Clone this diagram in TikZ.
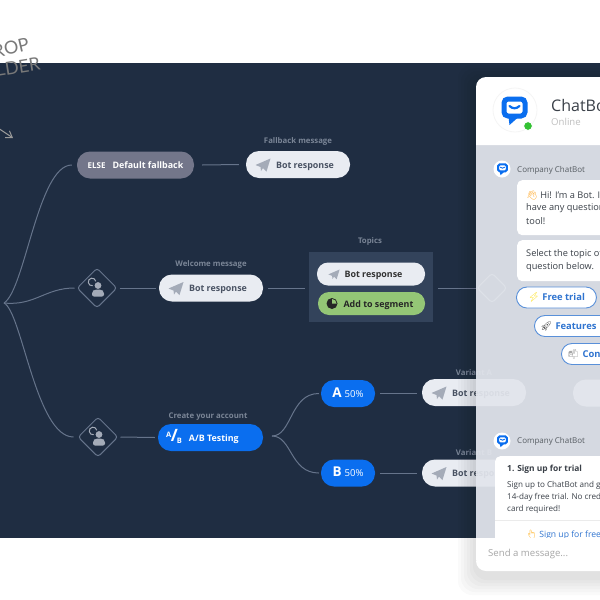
\documentclass[tikz,border=0pt]{standalone}
\usepackage{fontspec}
\setmainfont{Open Sans}
\newfontfamily\emojifont{Noto Emoji}
\newfontfamily\handfont{Lato}
\usetikzlibrary{shapes.geometric,arrows.meta}
\definecolor{navy}{HTML}{1F2D42}
\definecolor{wire}{HTML}{66748B}
\definecolor{softlabel}{HTML}{7A8596}
\definecolor{pillgrey}{HTML}{E9ECF2}
\definecolor{pilltext}{HTML}{4A5364}
\definecolor{elsegrey}{HTML}{73768A}
\definecolor{topicbg}{HTML}{33435B}
\definecolor{leaf}{HTML}{94C676}
\definecolor{brandblue}{HTML}{0A6EEF}
\definecolor{linkblue}{HTML}{2F74D0}
\definecolor{panelbody}{HTML}{E4E7EE}
\definecolor{planegrey}{HTML}{A4ABB8}
\definecolor{inktext}{HTML}{3A4048}
\tikzset{
  pill/.style={rounded corners=13pt,fill=pillgrey,text=pilltext,font=\fontsize{8.9}{11}\selectfont\bfseries,inner sep=0pt,minimum height=27pt,minimum width=104pt,text height=8.5pt,text depth=1.5pt},
  bluepill/.style={pill,fill=brandblue,text=white},
  smalllabel/.style={text=softlabel,font=\fontsize{7.8}{10}\selectfont\bfseries,inner sep=0pt,yshift=-1pt},
  wireline/.style={draw=wire,line width=1pt},
  gate/.style={diamond,draw=wire,line width=1pt,rounded corners=3pt,minimum size=40pt,inner sep=0pt},
  choice/.style={rounded corners=10.5pt,draw=linkblue!80,line width=0.9pt,fill=white,text=linkblue,font=\fontsize{9.4}{12}\selectfont\bfseries,inner sep=0pt,minimum height=21pt,anchor=west},
  bubble/.style={rounded corners=5pt,fill=white,inner sep=0pt,anchor=north west},
  chat/.style={text=inktext,font=\fontsize{9.2}{12}\selectfont,inner sep=0pt,anchor=west},
  chatname/.style={text=inktext!85,font=\fontsize{8}{10}\selectfont,inner sep=0pt,anchor=west},
  plane/.pic={\fill[planegrey] (-7.5,0.5) -- (7.5,-6) -- (3.5,7) -- (0,3.5) -- (-2,6.5) -- (-2.5,2.5) -- cycle;},
  person/.pic={
    \fill[planegrey] (2,-1.5) circle (3.4);
    \fill[planegrey,rounded corners=2pt] (-4,9.5) -- (-4,4.5) -- (-1.5,2.5) -- (5.5,2.5) -- (8,4.5) -- (8,9.5) -- cycle;
    \draw[planegrey,line width=1pt] (-3.3,-1.3) arc (80:350:3.8);
  },
  botmark/.pic={
    \draw[brandblue,line width=5pt*#1,rounded corners=4pt*#1,fill=white] (-10.5*#1,-10*#1) rectangle (10.5*#1,7*#1);
    \fill[brandblue] (-6*#1,8*#1) -- (-5*#1,16*#1) -- (4*#1,8*#1) -- cycle;
    \draw[brandblue,line width=2.2pt*#1,line cap=round] (-5*#1,-3*#1) .. controls (-2*#1,0*#1) and (2*#1,0*#1) .. (5*#1,-3*#1);
  },
}
\begin{document}
\begin{tikzpicture}[x=1pt,y=-1pt]
\useasboundingbox (0,0) rectangle (600,600);
\clip (0,0) rectangle (600,600);
\fill[white] (0,0) rectangle (600,600);
% dark canvas
\fill[navy] (0,63) rectangle (600,538);
% handwriting
\node[text=gray!95!black,font=\handfont\fontsize{18}{18}\selectfont,rotate=13,inner sep=0pt] (hand1) at (11,48) {ROP};
\node[text=gray!95!black,font=\handfont\fontsize{18}{18}\selectfont,rotate=9,inner sep=0pt] (hand2) at (18,67) {LDER};
\coordinate (arrowstart) at (-2,128);
\coordinate (arrowend) at (13,138);
\draw[gray!80,line width=1pt,-{Straight Barb[length=6pt,width=8pt]}] (arrowstart) -- (arrowend);

% nodes of the flow
\coordinate (root) at (4,303);
\node[pill,fill=elsegrey,text=white,minimum width=117pt] (else) at (135.5,165)
  {{\fontsize{8}{10}\selectfont ELSE}\hspace{7pt}Default fallback};
\node[pill] (fallbot) at (298,164.5) {\hspace{14pt}Bot response};
\pic at (263,164.5) {plane};
\node[smalllabel] (falllabel) at (298,140) {Fallback message};

\node[gate] (gate1) at (97,288) {};
\pic at (96,287) {person};
\node[pill] (welbot) at (211,288) {\hspace{14pt}Bot response};
\pic at (176,288) {plane};
\node[smalllabel] (wellabel) at (211,263) {Welcome message};

\node[smalllabel] (topiclabel) at (370,240) {Topics};
\node[fill=topicbg,minimum width=124pt,minimum height=70pt,inner sep=0pt] (topics) at (371,287) {};
\node[pill,text=black!80,minimum width=108pt,minimum height=23pt,rounded corners=11pt] (topicbot) at (371,274) {\hspace{5pt}Bot response};
\pic[scale=0.75] at (334,274) {plane};
\node[pill,fill=leaf,text=black!85,minimum width=107pt,minimum height=23pt,rounded corners=11pt] (segment) at (371.5,303.5) {\hspace{14pt}Add to segment};
\fill[black!85] (332,303.5) circle (5.5);
\fill[leaf] (332,303.5) -- (332,299) arc (-90:0:4.5) -- cycle;

\node[gate] (gate2) at (98,437) {};
\pic at (97,436) {person};
\node[bluepill,minimum width=105pt] (abtest) at (210.5,437.5)
  {\raisebox{4pt}{\fontsize{7.5}{7}\selectfont A}\kern-0.5pt{\fontsize{17}{15}\selectfont /}\kern-1pt\raisebox{-2pt}{\fontsize{7.5}{7}\selectfont B}\hspace{7pt}A/B Testing\kern16pt};
\node[smalllabel] (ablabel) at (208,416) {Create your account};
\coordinate (fork) at (272,436);
\node[bluepill,minimum width=54pt] (varA) at (348,393.5) {{\fontsize{13.5}{13}\selectfont A}\hspace{3pt}{\fontsize{9.6}{10}\selectfont\mdseries 50\%}};
\node[bluepill,minimum width=54pt] (varB) at (348,473) {{\fontsize{13.5}{13}\selectfont B}\hspace{3pt}{\fontsize{9.6}{10}\selectfont\mdseries 50\%}};
\node[pill] (botA) at (474,392.5) {\hspace{14pt}Bot response};
\pic at (439,392.5) {plane};
\node[pill] (botB) at (474,473) {\hspace{14pt}Bot response};
\pic at (439,473) {plane};
\node[smalllabel] (labA) at (474,372) {Variant A};
\node[smalllabel] (labB) at (474,452) {Variant B};
\node[pill,minimum width=60pt] (farpill) at (603,393) {};
\node[gate,draw=wire!60,minimum size=30pt] (gate3) at (492,288) {};

% connectors
\draw[wireline] (root) .. controls (25,290) and (38,165) .. ([xshift=-5pt]else.west);
\draw[wireline] (root) .. controls (35,306) and (45,288) .. ([xshift=-2pt]gate1.west);
\draw[wireline] (root) .. controls (22,312) and (36,437) .. ([xshift=-4pt]gate2.west);
\draw[wireline] ([xshift=8pt]else.east) -- ([xshift=-7pt]fallbot.west);
\draw[wireline] ([xshift=2pt]gate1.east) -- ([xshift=-3pt]welbot.west);
\draw[wireline] ([xshift=5pt]welbot.east) -- ([xshift=-4pt]topics.west |- welbot.east);
\draw[wireline] ([xshift=5pt,yshift=-1pt]topics.east) -- (gate3.west);
\draw[wireline] ([xshift=2pt]gate2.east) -- ([xshift=-3pt]abtest.west);
\draw[wireline] (fork) .. controls (292,436) and (290,393.5) .. ([xshift=-2pt]varA.west);
\draw[wireline] (fork) .. controls (292,436) and (290,473) .. ([xshift=-2pt]varB.west);
\draw[wireline] ([xshift=5pt]varA.east) -- ([xshift=-5pt]botA.west |- varA.east);
\draw[wireline] ([xshift=5pt]varB.east) -- ([xshift=-5pt]botB.west);

% chat panel shadow
\foreach \g in {18,15,...,3}{
  \fill[black,opacity=0.018,rounded corners=14pt] (476-\g,77-\g+6) rectangle (660,571+\g+6);
}
% chat panel body (slightly see-through)
\fill[panelbody,opacity=0.93] (476,145) rectangle (660,540);
% header
\fill[white] (476,145) {[rounded corners=10pt] -- (476,77) -- (670,77)} -- (670,145) -- cycle;
\node[circle,draw=black!4,line width=0.8pt,fill=white,minimum size=44pt,inner sep=0pt] (logo) at (515,110) {};
\pic at (514.5,109) {botmark=1};
\node[circle,fill=green!70!black!80,draw=white,line width=1pt,minimum size=9pt,inner sep=0pt] (status) at (528,126) {};
\node[text=inktext,font=\fontsize{16}{18}\selectfont,inner sep=0pt,anchor=west] (title) at (551,105) {ChatBot};
\node[text=black!25,font=\fontsize{9.6}{12}\selectfont,inner sep=0pt,anchor=west] (online) at (551,122) {Online};

% first message group
\node[circle,fill=white,minimum size=17pt,inner sep=0pt] (av1) at (502,169) {};
\pic at (502.5,168.5) {botmark=0.42};
\node[chatname] (name1) at (517,170) {Company ChatBot};
\node[bubble,minimum width=100pt,minimum height=55pt] (card1) at (517,180) {};
\node[chat] (c1a) at (526,195) {{\emojifont\textcolor{orange!80!yellow}{👋}} Hi! I'm a Bot. If};
\node[chat] (c1b) at (526,208) {have any questions};
\node[chat] (c1c) at (526,221) {tool!};
\node[bubble,minimum width=100pt,minimum height=41pt] (card2) at (517,240) {};
\node[chat] (c2a) at (526,254) {Select the topic of};
\node[chat] (c2b) at (526,267) {question below.};
\node[choice,minimum width=80pt] (free) at (516,297.5) {{\emojifont\textcolor{yellow!80!orange}{⚡}} Free trial};
\node[choice,minimum width=90pt,text width=80pt] (feat) at (534,326) {\hspace{1pt}{\emojifont\textcolor{black!70}{🚀}} Features};
\node[choice,minimum width=60pt,text width=50pt] (cont) at (561,354) {\hspace{1pt}{\emojifont\textcolor{black!35}{📬}} Con};

% second message group
\node[circle,fill=white,minimum size=17pt,inner sep=0pt] (av2) at (502,441) {};
\pic at (502.5,440.5) {botmark=0.42};
\node[chatname] (name2) at (517,441) {Company ChatBot};
\node[bubble,minimum width=120pt,minimum height=90pt] (card3) at (495,456) {};
\node[chat,font=\fontsize{8.4}{10}\selectfont\bfseries] (c3a) at (507,469) {1. Sign up for trial};
\node[chat,font=\fontsize{8.1}{10}\selectfont] (c3b) at (507,485) {Sign up to ChatBot and g};
\node[chat,font=\fontsize{8.1}{10}\selectfont] (c3c) at (507,497) {14-day free trial. No cred};
\node[chat,font=\fontsize{8.1}{10}\selectfont] (c3d) at (507,509) {card required!};
\draw[black!8,line width=0.6pt] (card3.west |- c3d.south) ++(0,7) -- ++(120,0);
\node[chat,text=linkblue,font=\fontsize{8.6}{11}\selectfont] (c3e) at (526,534.5) {{\emojifont\textcolor{orange!70!yellow}{👆}} Sign up for free};

% footer
\fill[white,rounded corners=10pt] (476,552) rectangle (670,571);
\fill[white] (476,537.5) rectangle (670,560);
\node[text=black!35,font=\fontsize{9.6}{12}\selectfont,inner sep=0pt,anchor=west] (send) at (488,554) {Send a message...};
\end{tikzpicture}
\end{document}
